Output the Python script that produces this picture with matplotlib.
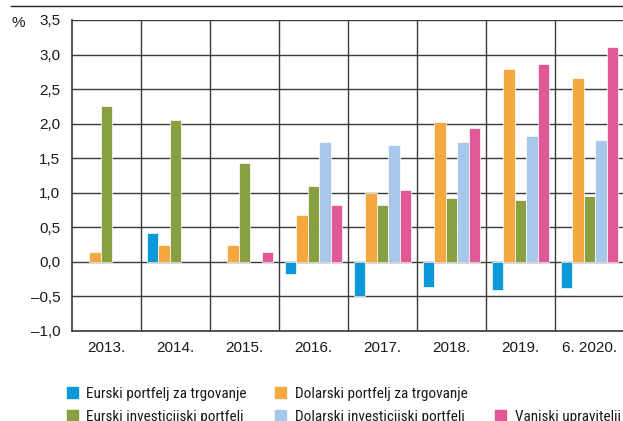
import matplotlib
matplotlib.use("Agg")
import matplotlib.pyplot as plt
from matplotlib.patches import Rectangle
from matplotlib.lines import Line2D
import numpy as np

plt.rcParams['font.family'] = ['Liberation Sans', 'DejaVu Sans']
LEGEND_FONT = ['Roboto Condensed', 'Liberation Sans', 'DejaVu Sans']

categories = ["2013.", "2014.", "2015.", "2016.", "2017.", "2018.", "2019.", "6. 2020."]
series_names = [
    "Eurski portfelj za trgovanje",
    "Dolarski portfelj za trgovanje",
    "Eurski investicijski portfelj",
    "Dolarski investicijski portfelj",
    "Vanjski upravitelji",
]
nan = np.nan
eur_trading = [nan, 0.42, nan, -0.18, -0.49, -0.37, -0.40, -0.38]
usd_trading = [0.14, 0.24, 0.25, 0.68, 1.00, 2.02, 2.79, 2.66]
eur_invest = [2.26, 2.05, 1.43, 1.10, 0.83, 0.92, 0.90, 0.96]
usd_invest = [nan, nan, nan, 1.74, 1.69, 1.74, 1.82, 1.77]
external = [nan, nan, 0.15, 0.82, 1.04, 1.94, 2.87, 3.11]
y_ticks = [-1.0, -0.5, 0.0, 0.5, 1.0, 1.5, 2.0, 2.5, 3.0, 3.5]

colors = ["#0a98d8", "#f5a840", "#88a042", "#a7c8ea", "#e05895"]
series = [eur_trading, usd_trading, eur_invest, usd_invest, external]

W, H = 623, 421
fig = plt.figure(figsize=(W / 100, H / 100), dpi=100)
ax = fig.add_axes([72 / W, 1 - 331 / H, 552 / W, 311 / H])

n = len(categories)
x = np.arange(n) + 0.5
bw = 1 / 6
for k, (vals, c) in enumerate(zip(series, colors)):
    ax.bar(x + (k - 2) * bw, vals, width=bw, color=c, edgecolor="#ffffff",
           linewidth=0.5, zorder=3)

ax.set_xlim(0, n)
ax.set_ylim(-1.0, 3.5)
grid_c = "#3a3a3a"
for yv in y_ticks:
    ax.axhline(yv, color=grid_c, lw=1.0, zorder=1)
for xv in range(1, n):
    ax.axvline(xv, color=grid_c, lw=1.0, zorder=1)

ax.set_yticks(y_ticks)
ax.set_yticklabels([f"{v:.1f}".replace(".", ",").replace("-", "\u2013") for v in y_ticks])
ax.set_xticks(x)
ax.set_xticklabels(categories)
ax.tick_params(axis="both", length=0, labelsize=11, colors="#1a1a1a")
ax.tick_params(axis="y", pad=8.5)
ax.tick_params(axis="x", pad=7)
for s in ["top", "right"]:
    ax.spines[s].set_visible(False)
for s in ["left", "bottom"]:
    ax.spines[s].set_color(grid_c)
    ax.spines[s].set_linewidth(1.2)

# rule above the chart and unit label
fig.add_artist(Line2D([11 / W, 1.0], [1 - 5.5 / H, 1 - 5.5 / H], color="#222222", lw=1.0))
fig.text(12 / W, 1 - 23 / H, "%", fontsize=11, va="center", ha="left", color="#1a1a1a")

# legend: (square left x, square top y, text left x) in pixels
legend_pos = [
    (66.7, 387.3, 86), (275, 387.3, 295),
    (66.7, 410, 86), (275, 410, 295), (494.7, 410, 514.7),
]
for (sx, sy, tx), c, name in zip(legend_pos, colors, series_names):
    fig.add_artist(Rectangle((sx / W, 1 - (sy + 11) / H), 11 / W, 11 / H,
                             color=c, transform=fig.transFigure))
    fig.text(tx / W, 1 - (sy + 11) / H, name, fontsize=11, va="baseline",
             ha="left", color="#1a1a1a", family=LEGEND_FONT)

fig.savefig("out.png", dpi=100)
